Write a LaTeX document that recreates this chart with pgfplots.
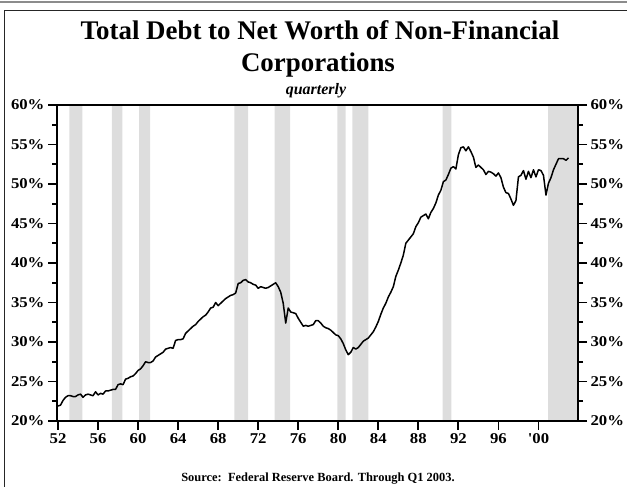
\documentclass[border=0pt]{standalone}
\usepackage{fontspec}
\setmainfont{Liberation Serif}
\newfontfamily\tickfont{Liberation Serif}[FakeStretch=1.12, Ligatures=TeXOff]
\usepackage{pgfplots}
\pgfplotsset{compat=1.18}
\usepackage{pgfplotstable}
\definecolor{recgray}{RGB}{221,221,221}

\pgfplotstableread{
year val
1952.00 21.9
1952.25 22.0
1952.50 22.6
1952.75 23.0
1953.00 23.2
1953.25 23.2
1953.50 23.1
1953.75 23.1
1954.00 23.3
1954.25 23.4
1954.50 23.0
1954.75 23.3
1955.00 23.4
1955.25 23.3
1955.50 23.2
1955.75 23.7
1956.00 23.3
1956.25 23.5
1956.50 23.4
1956.75 23.8
1957.00 23.8
1957.25 23.9
1957.50 24.0
1957.75 24.0
1958.00 24.6
1958.25 24.7
1958.50 24.6
1958.75 25.3
1959.00 25.4
1959.25 25.6
1959.50 25.7
1959.75 26.0
1960.00 26.4
1960.25 26.6
1960.50 27.0
1960.75 27.5
1961.00 27.4
1961.25 27.4
1961.50 27.6
1961.75 28.1
1962.00 28.3
1962.25 28.5
1962.50 28.7
1962.75 29.1
1963.00 29.2
1963.25 29.3
1963.50 29.2
1963.75 30.2
1964.00 30.3
1964.25 30.3
1964.50 30.4
1964.75 31.1
1965.00 31.4
1965.25 31.7
1965.50 32.0
1965.75 32.2
1966.00 32.6
1966.25 32.9
1966.50 33.2
1966.75 33.4
1967.00 33.8
1967.25 34.3
1967.50 34.4
1967.75 35.0
1968.00 34.6
1968.25 34.9
1968.50 35.2
1968.75 35.5
1969.00 35.7
1969.25 35.9
1969.50 36.0
1969.75 36.2
1970.00 37.4
1970.25 37.5
1970.50 37.8
1970.75 37.9
1971.00 37.6
1971.25 37.5
1971.50 37.3
1971.75 37.2
1972.00 36.8
1972.25 37.0
1972.50 36.9
1972.75 36.8
1973.00 36.9
1973.25 37.1
1973.50 37.3
1973.75 37.5
1974.00 37.0
1974.25 36.3
1974.50 34.9
1974.75 32.4
1975.00 34.3
1975.25 33.8
1975.50 33.7
1975.75 33.6
1976.00 33.0
1976.25 32.5
1976.50 32.0
1976.75 32.1
1977.00 32.0
1977.25 32.1
1977.50 32.2
1977.75 32.7
1978.00 32.7
1978.25 32.4
1978.50 32.0
1978.75 31.8
1979.00 31.7
1979.25 31.5
1979.50 31.2
1979.75 30.9
1980.00 30.8
1980.25 30.4
1980.50 29.8
1980.75 29.0
1981.00 28.4
1981.25 28.7
1981.50 29.3
1981.75 29.1
1982.00 29.3
1982.25 29.7
1982.50 30.1
1982.75 30.3
1983.00 30.5
1983.25 30.9
1983.50 31.3
1983.75 31.9
1984.00 32.6
1984.25 33.5
1984.50 34.3
1984.75 34.9
1985.00 35.7
1985.25 36.3
1985.50 37.0
1985.75 38.3
1986.00 39.1
1986.25 40.0
1986.50 41.0
1986.75 42.5
1987.00 42.9
1987.25 43.3
1987.50 43.7
1987.75 44.6
1988.00 45.1
1988.25 45.8
1988.50 46.0
1988.75 46.2
1989.00 45.6
1989.25 46.4
1989.50 46.9
1989.75 47.6
1990.00 48.6
1990.25 49.2
1990.50 50.3
1990.75 50.5
1991.00 51.2
1991.25 52.0
1991.50 52.2
1991.75 51.9
1992.00 53.7
1992.25 54.6
1992.50 54.7
1992.75 54.2
1993.00 54.7
1993.25 54.1
1993.50 53.4
1993.75 52.1
1994.00 52.4
1994.25 52.1
1994.50 51.8
1994.75 51.2
1995.00 51.6
1995.25 51.5
1995.50 51.3
1995.75 51.0
1996.00 51.4
1996.25 50.8
1996.50 49.6
1996.75 48.9
1997.00 48.8
1997.25 48.1
1997.50 47.3
1997.75 47.9
1998.00 50.9
1998.25 51.1
1998.50 51.7
1998.75 50.6
1999.00 51.6
1999.25 50.8
1999.50 51.8
1999.75 50.9
2000.00 51.8
2000.25 51.7
2000.50 51.1
2000.75 48.6
2001.00 50.1
2001.25 50.8
2001.50 51.8
2001.75 52.5
2002.00 53.2
2002.25 53.2
2002.50 53.2
2002.75 53.0
2003.00 53.3
}\debt

\begin{document}
\begin{tikzpicture}
\useasboundingbox (0bp,0bp) rectangle (627bp,487bp);
\draw[black!45, line width=2bp] (0bp,484.5bp) -- (627bp,484.5bp);
\draw[black!85, line width=1bp] (4.5bp,0bp) -- (4.5bp,476bp) -- (627bp,476bp);
\node[font=\fontsize{27}{30}\selectfont\bfseries, anchor=base, inner sep=0] at (320bp,447bp) {Total Debt to Net Worth of Non-Financial};
\node[font=\fontsize{27}{30}\selectfont\bfseries, anchor=base, inner sep=0] at (318bp,415bp) {Corporations};
\node[font=\fontsize{16}{18}\selectfont\bfseries\itshape, anchor=base, inner sep=0] at (316bp,392bp) {quarterly};
\node[font=\fontsize{12.5}{14}\selectfont\bfseries, anchor=base, inner sep=0] at (318bp,6bp) {Source:\ \ Federal Reserve Board. Through Q1 2003.};

\begin{axis}[
  at={(57bp,66bp)}, anchor=south west,
  scale only axis, width=521bp, height=316bp,
  xmin=1951.9, xmax=2003.95, ymin=20, ymax=60,
  axis on top,
  axis line style={line width=2bp, black},
  tick style={line width=1.8bp, black},
  tick align=outside,
  major tick length=9bp, minor tick length=5bp,
  xtick pos=bottom, ytick pos=left,
  xtick={1952,1956,1960,1964,1968,1972,1976,1980,1984,1988,1992,1996,2000},
  xticklabels={52,56,60,64,68,72,76,80,84,88,92,96,'00},
  ytick={20,25,30,35,40,45,50,55,60},
  yticklabels={20\%,25\%,30\%,35\%,40\%,45\%,50\%,55\%,60\%},
  minor ytick={22.5,27.5,32.5,37.5,42.5,47.5,52.5,57.5},
  ticklabel style={font=\tickfont\fontsize{15}{17}\selectfont\bfseries},
]
\addplot[fill=recgray, draw=none] coordinates {(1953.13,20) (1953.13,60) (1954.43,60) (1954.43,20)} \closedcycle;
\addplot[fill=recgray, draw=none] coordinates {(1957.37,20) (1957.37,60) (1958.43,60) (1958.43,20)} \closedcycle;
\addplot[fill=recgray, draw=none] coordinates {(1960.10,20) (1960.10,60) (1961.20,60) (1961.20,20)} \closedcycle;
\addplot[fill=recgray, draw=none] coordinates {(1969.63,20) (1969.63,60) (1971.00,60) (1971.00,20)} \closedcycle;
\addplot[fill=recgray, draw=none] coordinates {(1973.63,20) (1973.63,60) (1975.20,60) (1975.20,20)} \closedcycle;
\addplot[fill=recgray, draw=none] coordinates {(1979.90,20) (1979.90,60) (1980.73,60) (1980.73,20)} \closedcycle;
\addplot[fill=recgray, draw=none] coordinates {(1981.40,20) (1981.40,60) (1983.00,60) (1983.00,20)} \closedcycle;
\addplot[fill=recgray, draw=none] coordinates {(1990.43,20) (1990.43,60) (1991.30,60) (1991.30,20)} \closedcycle;
\addplot[fill=recgray, draw=none] coordinates {(2000.97,20) (2000.97,60) (2004.00,60) (2004.00,20)} \closedcycle;
\addplot[black, line width=1.5bp, line join=round] table[x=year, y=val] {\debt};
\end{axis}

\begin{axis}[
  at={(57bp,66bp)}, anchor=south west,
  scale only axis, width=521bp, height=316bp,
  xmin=1951.9, xmax=2003.95, ymin=20, ymax=60,
  axis x line=none, axis y line*=right,
  axis line style={line width=2bp, black},
  tick style={line width=1.8bp, black},
  tick align=outside,
  major tick length=9bp, minor tick length=5bp,
  ytick={20,25,30,35,40,45,50,55,60},
  yticklabels={20\%,25\%,30\%,35\%,40\%,45\%,50\%,55\%,60\%},
  minor ytick={22.5,27.5,32.5,37.5,42.5,47.5,52.5,57.5},
  ticklabel style={font=\tickfont\fontsize{15}{17}\selectfont\bfseries},
]
\end{axis}
\end{tikzpicture}
\end{document}
